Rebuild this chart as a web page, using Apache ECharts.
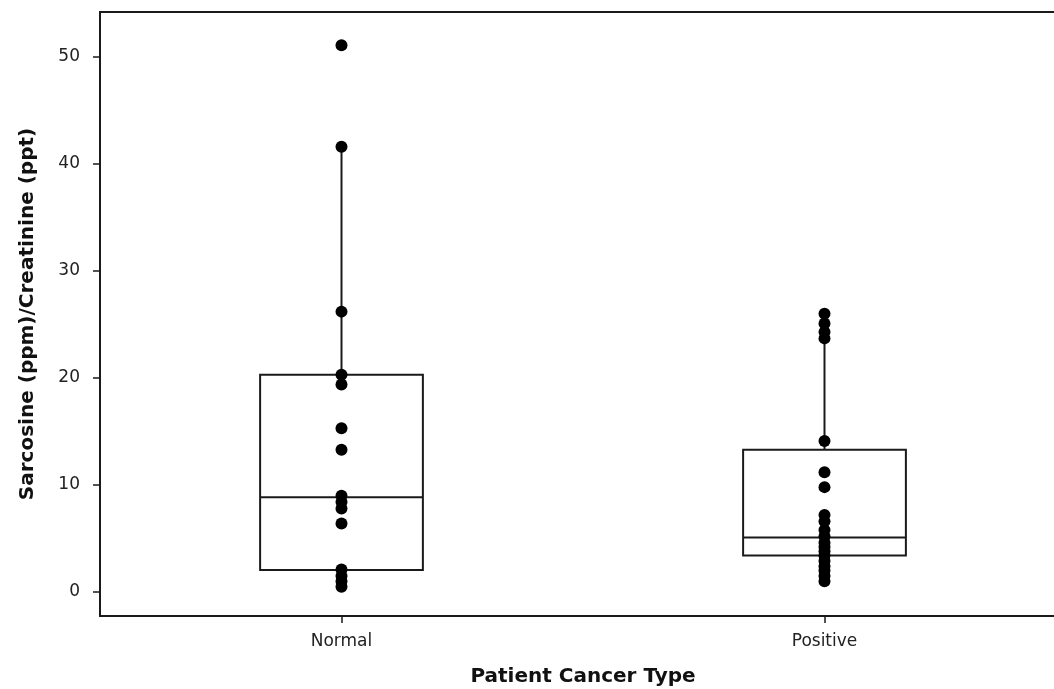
<!DOCTYPE html>
<html>
<head>
<meta charset="utf-8">
<script src="https://cdn.jsdelivr.net/npm/echarts@6/dist/echarts.min.js"></script>
<style>
  html, body { margin: 0; padding: 0; background: #fff; overflow: hidden; }
  /* the plot frame continues past the right edge of the view */
  #chart { width: 1070px; height: 689px; }
</style>
</head>
<body>
<div id="chart"></div>
<script>
// Patient groups on the x axis
const categories = ['Normal', 'Positive'];

// Individual sarcosine/creatinine ratios per group
const normalValues = [51.1, 41.6, 26.2, 20.3, 19.4, 15.3, 13.3, 9.0, 8.4, 7.8, 6.4, 2.1, 1.5, 1.0, 0.5];
const positiveValues = [26.0, 25.1, 24.3, 23.7, 14.1, 11.2, 9.8, 7.2, 6.6, 5.8, 5.2, 4.6, 4.2, 3.8, 3.4, 2.9, 2.4, 2.0, 1.5, 1.0];

// Box summaries: [lower whisker, Q1, median, Q3, upper whisker]
const normalBox = [0.5, 2.05, 8.85, 20.3, 41.6];
const positiveBox = [1.0, 3.4, 5.1, 13.3, 26.0];

// Value axis tick labels
const yTicks = [0, 10, 20, 30, 40, 50];

const boxData = [
  [0].concat(normalBox),
  [1].concat(positiveBox)
];
const pointData = []
  .concat(normalValues.map(v => [0, v]))
  .concat(positiveValues.map(v => [1, v]));

const INK = '#1a1a1a';
const FONT = 'DejaVu Sans';

function renderBox(params, api) {
  const cat = api.value(0);
  const lo = api.value(1), q1 = api.value(2), med = api.value(3), q3 = api.value(4), hi = api.value(5);
  const band = api.size([1, 0])[0];
  const half = band * 0.337 / 2;
  const pLo = api.coord([cat, lo]);
  const pQ1 = api.coord([cat, q1]);
  const pMed = api.coord([cat, med]);
  const pQ3 = api.coord([cat, q3]);
  const pHi = api.coord([cat, hi]);
  const cx = pMed[0];
  const lineStyle = { stroke: INK, lineWidth: 2, fill: null };
  return {
    type: 'group',
    children: [
      { type: 'rect', shape: { x: cx - half, y: pQ3[1], width: half * 2, height: pQ1[1] - pQ3[1] },
        style: { stroke: INK, lineWidth: 2, fill: '#fff' } },
      { type: 'line', shape: { x1: cx - half, y1: pMed[1], x2: cx + half, y2: pMed[1] }, style: lineStyle },
      { type: 'line', shape: { x1: cx, y1: pQ3[1], x2: cx, y2: pHi[1] }, style: lineStyle },
      { type: 'line', shape: { x1: cx, y1: pQ1[1], x2: cx, y2: pLo[1] }, style: lineStyle }
    ]
  };
}

const chart = echarts.init(document.getElementById('chart'), null, { renderer: 'canvas' });
chart.setOption({
  animation: false,
  backgroundColor: '#fff',
  grid: {
    left: 100, top: 12, right: 4, bottom: 73,
    outerBoundsMode: 'none',
    show: true, borderColor: INK, borderWidth: 2, backgroundColor: '#fff'
  },
  xAxis: {
    type: 'category',
    data: categories,
    boundaryGap: true,
    axisLine: { show: false, onZero: false },
    axisTick: { show: true, alignWithLabel: true, length: 7, lineStyle: { color: INK, width: 1.5 } },
    axisLabel: { margin: 17, color: '#222', fontFamily: FONT, fontSize: 17 },
    splitLine: { show: false },
    name: 'Patient Cancer Type',
    nameLocation: 'middle',
    nameGap: 51,
    nameTextStyle: { color: '#111', fontFamily: FONT, fontSize: 20, fontWeight: 'bold' }
  },
  yAxis: {
    type: 'value',
    min: -2.243,
    max: 54.2,
    axisLine: { show: false, onZero: false },
    axisTick: { show: true, length: 7, customValues: yTicks, lineStyle: { color: INK, width: 1.5 } },
    axisLabel: { margin: 20, color: '#222', fontFamily: FONT, fontSize: 17, customValues: yTicks },
    splitLine: { show: false },
    name: 'Sarcosine (ppm)/Creatinine (ppt)',
    nameLocation: 'middle',
    nameRotate: 90,
    nameGap: 62,
    nameTextStyle: { color: '#111', fontFamily: FONT, fontSize: 20, fontWeight: 'bold' }
  },
  series: [
    {
      type: 'custom',
      renderItem: renderBox,
      data: boxData,
      encode: { x: 0, y: [1, 2, 3, 4, 5] },
      z: 2,
      silent: true
    },
    {
      type: 'scatter',
      data: pointData,
      symbol: 'circle',
      symbolSize: 12,
      itemStyle: { color: '#000', opacity: 1 },
      z: 3,
      silent: true
    }
  ]
});
</script>
</body>
</html>
